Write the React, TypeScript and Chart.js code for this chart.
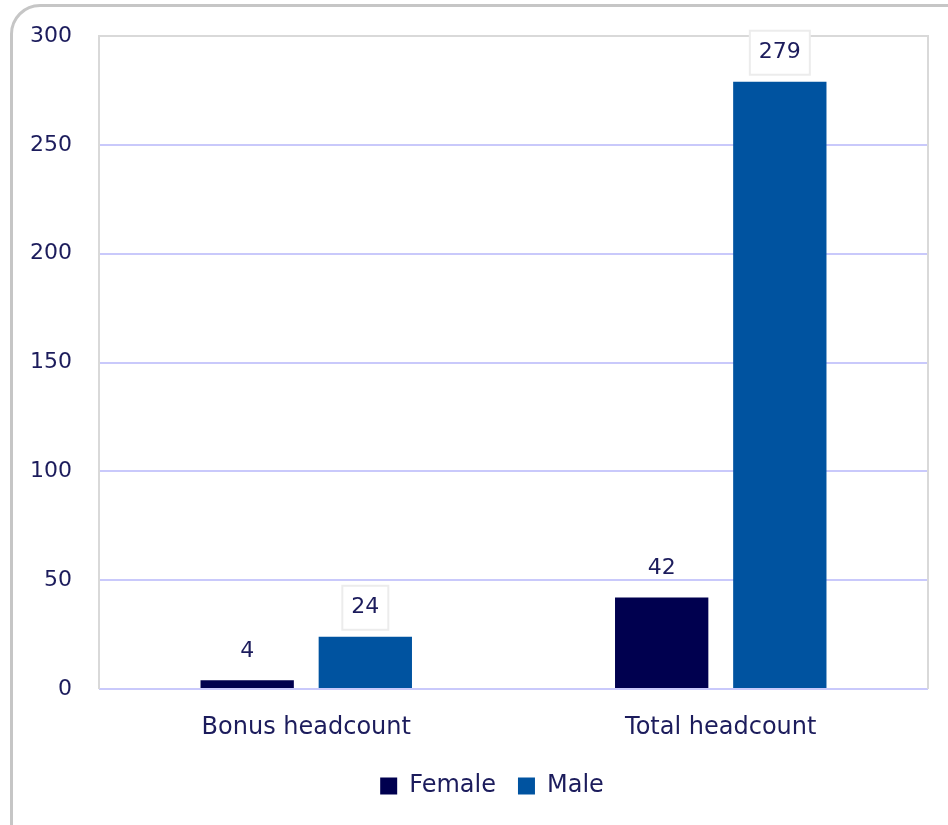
import React, { useEffect, useRef } from "react";
import { Chart, registerables } from "chart.js";

Chart.register(...registerables);

const categories = ["Bonus headcount", "Total headcount"];
const femaleValues = [4, 42];
const maleValues = [24, 279];
const seriesNames = ["Female", "Male"];
const yTicks = { min: 0, max: 300, step: 50 };

const TEXT = "#1c1c5c";
const FEMALE = "#00004f";
const MALE = "#0053a0";
const FONT = "'DejaVu Sans', sans-serif";

const labelPlugin = {
  id: "valueLabels",
  afterLayout(chart: any) {
    if (chart.legend) {
      chart.legend.left += 28;
      chart.legend.right += 28;
    }
  },
  afterDatasetsDraw(chart: any) {
    const ctx = chart.ctx;
    const area = chart.chartArea;
    ctx.save();
    ctx.strokeStyle = "#d9d9d9";
    ctx.lineWidth = 2;
    ctx.beginPath();
    ctx.moveTo(area.left, area.bottom);
    ctx.lineTo(area.left, area.top);
    ctx.lineTo(area.right, area.top);
    ctx.lineTo(area.right, area.bottom);
    ctx.stroke();

    ctx.font = "22px " + FONT;
    ctx.textAlign = "center";
    ctx.textBaseline = "middle";
    chart.data.datasets.forEach((ds: any, di: number) => {
      const meta = chart.getDatasetMeta(di);
      meta.data.forEach((bar: any, i: number) => {
        const text = String(ds.data[i]);
        const cx = bar.x;
        const cy = bar.y - 29;
        if (di === 1) {
          const w = ctx.measureText(text).width + 18;
          const h = 44;
          ctx.fillStyle = "#ffffff";
          ctx.fillRect(cx - w / 2, cy - h / 2, w, h);
          ctx.strokeStyle = "#ececec";
          ctx.lineWidth = 2;
          ctx.strokeRect(cx - w / 2, cy - h / 2, w, h);
        }
        ctx.fillStyle = TEXT;
        ctx.fillText(text, cx, cy);
      });
    });
    ctx.restore();
  },
};

export default function App() {
  const ref = useRef<HTMLCanvasElement>(null);
  useEffect(() => {
    if (!ref.current) return;
    const chart = new Chart(ref.current, {
      type: "bar",
      data: {
        labels: categories,
        datasets: [
          {
            label: seriesNames[0],
            data: femaleValues,
            backgroundColor: FEMALE,
            categoryPercentage: 0.57,
            barPercentage: 0.79,
          },
          {
            label: seriesNames[1],
            data: maleValues,
            backgroundColor: MALE,
            categoryPercentage: 0.57,
            barPercentage: 0.79,
          },
        ],
      },
      options: {
        animation: false,
        responsive: false,
        maintainAspectRatio: false,
        layout: { padding: { left: 0, right: 20, top: 36, bottom: 17 } },
        scales: {
          x: {
            grid: { display: false },
            border: { display: false },
            ticks: {
              color: TEXT,
              padding: 16,
              font: { family: FONT, size: 24 },
            },
            afterFit(scale: any) {
              scale.height = 63;
            },
          },
          y: {
            min: yTicks.min,
            max: yTicks.max,
            ticks: {
              stepSize: yTicks.step,
              color: TEXT,
              padding: 27,
              font: { family: FONT, size: 22 },
            },
            grid: { color: "#c9c9fb", lineWidth: 2, drawTicks: false },
            border: { display: false },
            afterFit(scale: any) {
              scale.width = 99;
              scale.paddingTop = 0;
              scale.paddingBottom = 0;
            },
          },
        },
        plugins: {
          legend: {
            position: "bottom",
            labels: {
              color: TEXT,
              boxWidth: 17,
              boxHeight: 17,
              padding: 22,
              font: { family: FONT, size: 24 },
            },
          },
          tooltip: { enabled: false },
        },
      },
      plugins: [labelPlugin],
    });
    return () => chart.destroy();
  }, []);

  return (
    <div style={{ position: "fixed", left: 0, top: 0, width: 948, height: 825, overflow: "hidden", background: "#fff" }}>
      <div
        style={{
          position: "absolute",
          left: 10,
          top: 4,
          width: 980,
          height: 860,
          border: "3px solid #c6c6c6",
          borderRadius: 30,
          boxSizing: "border-box",
        }}
      />
      <canvas ref={ref} width={948} height={825} style={{ position: "absolute", left: 0, top: 0 }} />
    </div>
  );
}
